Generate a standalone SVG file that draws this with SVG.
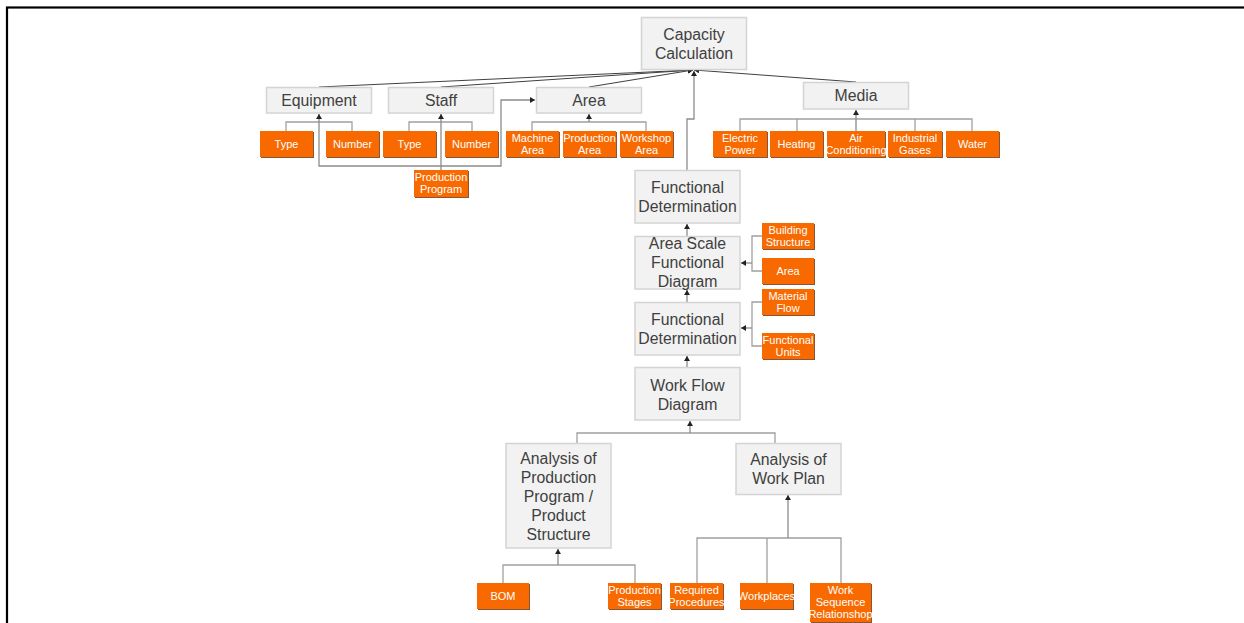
<svg xmlns="http://www.w3.org/2000/svg" width="1244" height="623" viewBox="0 0 1244 623">
  <style>
    .box { fill: #f2f2f2; stroke: #d4d4d4; stroke-width: 1.5; }
    .lbl { font-family: "Liberation Sans", Arial, sans-serif; font-size: 15.8px; fill: #404040; text-anchor: middle; }
    .leaf { fill: #f86a00; }
    .leaf-edge { fill: #8a5536; }
    .ltxt { font-family: "Liberation Sans", Arial, sans-serif; font-size: 11px; fill: #ffffff; text-anchor: middle; }
    .tree { fill: none; stroke: #a0a0a0; stroke-width: 1.3; }
    .up { fill: none; stroke: #8c8c8c; stroke-width: 1.3; marker-end: url(#arr); }
    .to-top { fill: none; stroke: #404040; stroke-width: 1; marker-end: url(#arr); }
  </style>
  <defs>
    <marker id="arr" markerUnits="userSpaceOnUse" markerWidth="6" markerHeight="6" refX="5" refY="3" orient="auto">
      <path d="M0,0 L5,3 L0,6 Z" fill="#222"/>
    </marker>
  </defs>

  <rect width="1244" height="623" fill="#ffffff"/>
  <!-- page frame -->
  <rect x="7" y="7.5" width="1300" height="700" fill="none" stroke="#000" stroke-width="2.2"/>

  <!-- connectors -->
  <g id="connectors">
    <!-- into Capacity Calculation -->
    <line class="to-top" x1="319" y1="87" x2="693" y2="70"/>
    <line class="to-top" x1="441" y1="87" x2="693" y2="70"/>
    <line class="to-top" x1="589" y1="87" x2="693" y2="70"/>
    <line class="to-top" x1="856" y1="82" x2="694" y2="70"/>
    <path class="up" d="M687,170 V119 H694 V71"/>

    <!-- Equipment children -->
    <path class="tree" d="M286,131 V122 H352 V131"/>
    <!-- Staff children -->
    <path class="tree" d="M409,131 V122 H472 V131"/>
    <!-- Area children -->
    <path class="tree" d="M532,131 V122 H646 V131"/>
    <path class="up" d="M589,122 V114"/>
    <!-- Production Program feeding Equipment, Staff and Area -->
    <path class="up" d="M441,170 V114"/>
    <path class="up" d="M441,166 H319 V114"/>
    <path class="up" d="M441,166 H501 V100 H535"/>

    <!-- Media children -->
    <path class="tree" d="M740,131 V119 H972 V131 M797,119 V131 M915,119 V131"/>
    <path class="up" d="M856,131 V110"/>

    <!-- central chain -->
    <path class="up" d="M687,236 V224"/>
    <path class="up" d="M687,302 V290"/>
    <path class="up" d="M687,367 V356"/>

    <!-- side inputs -->
    <path class="tree" d="M762,236 H752 V271 H762"/>
    <path class="up" d="M752,263 H741"/>
    <path class="tree" d="M762,302 H752 V346 H762"/>
    <path class="up" d="M752,328 H741"/>

    <!-- analyses into Work Flow Diagram -->
    <path class="tree" d="M577,443 V433 H775 V443"/>
    <path class="up" d="M690,433 V421"/>

    <!-- BOM / Production Stages -->
    <path class="tree" d="M503,583 V565 H635 V583"/>
    <path class="up" d="M558,565 V549"/>

    <!-- Work plan inputs -->
    <path class="tree" d="M697,583 V538 H841 V583 M767,538 V583"/>
    <path class="up" d="M788,538 V495"/>
  </g>

  <!-- main nodes -->
  <g id="capacity">
    <rect class="box" x="641.5" y="17.5" width="105" height="52"/>
    <text class="lbl" x="694" y="39.5">Capacity</text>
    <text class="lbl" x="694" y="58.5">Calculation</text>
  </g>
  <g id="equipment">
    <rect class="box" x="266.5" y="87.5" width="105" height="25.5"/>
    <text class="lbl" x="319" y="105.5">Equipment</text>
  </g>
  <g id="staff">
    <rect class="box" x="388.5" y="87.5" width="105" height="25.5"/>
    <text class="lbl" x="441" y="105.5">Staff</text>
  </g>
  <g id="area">
    <rect class="box" x="536.5" y="87.5" width="105" height="25.5"/>
    <text class="lbl" x="589" y="105.5">Area</text>
  </g>
  <g id="media">
    <rect class="box" x="803.5" y="82.5" width="105" height="26.5"/>
    <text class="lbl" x="856" y="101">Media</text>
  </g>
  <g id="functional-determination-1">
    <rect class="box" x="635" y="170.5" width="105" height="52.5"/>
    <text class="lbl" x="687.5" y="192.5">Functional</text>
    <text class="lbl" x="687.5" y="211.5">Determination</text>
  </g>
  <g id="area-scale-functional-diagram">
    <rect class="box" x="635" y="236.5" width="105" height="52.5"/>
    <text class="lbl" x="687.5" y="248.5">Area Scale</text>
    <text class="lbl" x="687.5" y="267.5">Functional</text>
    <text class="lbl" x="687.5" y="286.5">Diagram</text>
  </g>
  <g id="functional-determination-2">
    <rect class="box" x="635" y="302.5" width="105" height="52.5"/>
    <text class="lbl" x="687.5" y="324.5">Functional</text>
    <text class="lbl" x="687.5" y="343.5">Determination</text>
  </g>
  <g id="work-flow-diagram">
    <rect class="box" x="635" y="367.5" width="105" height="52.5"/>
    <text class="lbl" x="687.5" y="390.5">Work Flow</text>
    <text class="lbl" x="687.5" y="409.5">Diagram</text>
  </g>
  <g id="analysis-production-program">
    <rect class="box" x="506" y="443.5" width="105" height="104.5"/>
    <text class="lbl" x="558.5" y="463.5">Analysis of</text>
    <text class="lbl" x="558.5" y="482.5">Production</text>
    <text class="lbl" x="558.5" y="501.5">Program /</text>
    <text class="lbl" x="558.5" y="520.5">Product</text>
    <text class="lbl" x="558.5" y="539.5">Structure</text>
  </g>
  <g id="analysis-work-plan">
    <rect class="box" x="736" y="443.5" width="105" height="51"/>
    <text class="lbl" x="788.5" y="465">Analysis of</text>
    <text class="lbl" x="788.5" y="484">Work Plan</text>
  </g>

  <!-- leaf nodes -->
  <g id="equipment-type">
    <rect class="leaf-edge" x="261" y="132" width="53" height="26"/>
    <rect class="leaf" x="260" y="131" width="53" height="26"/>
    <text class="ltxt" x="286.5" y="148">Type</text>
  </g>
  <g id="equipment-number">
    <rect class="leaf-edge" x="327" y="132" width="53" height="26"/>
    <rect class="leaf" x="326" y="131" width="53" height="26"/>
    <text class="ltxt" x="352.5" y="148">Number</text>
  </g>
  <g id="staff-type">
    <rect class="leaf-edge" x="384" y="132" width="53" height="26"/>
    <rect class="leaf" x="383" y="131" width="53" height="26"/>
    <text class="ltxt" x="409.5" y="148">Type</text>
  </g>
  <g id="staff-number">
    <rect class="leaf-edge" x="446" y="132" width="53" height="26"/>
    <rect class="leaf" x="445" y="131" width="53" height="26"/>
    <text class="ltxt" x="471.5" y="148">Number</text>
  </g>
  <g id="machine-area">
    <rect class="leaf-edge" x="507" y="132" width="53" height="26"/>
    <rect class="leaf" x="506" y="131" width="53" height="26"/>
    <text class="ltxt" x="532.5" y="142">Machine</text>
    <text class="ltxt" x="532.5" y="154">Area</text>
  </g>
  <g id="production-area">
    <rect class="leaf-edge" x="564" y="132" width="53" height="26"/>
    <rect class="leaf" x="563" y="131" width="53" height="26"/>
    <text class="ltxt" x="589.5" y="142">Production</text>
    <text class="ltxt" x="589.5" y="154">Area</text>
  </g>
  <g id="workshop-area">
    <rect class="leaf-edge" x="621" y="132" width="53" height="26"/>
    <rect class="leaf" x="620" y="131" width="53" height="26"/>
    <text class="ltxt" x="646.5" y="142">Workshop</text>
    <text class="ltxt" x="646.5" y="154">Area</text>
  </g>
  <g id="production-program">
    <rect class="leaf-edge" x="415" y="171" width="54" height="27"/>
    <rect class="leaf" x="414" y="170" width="54" height="27"/>
    <text class="ltxt" x="441" y="181">Production</text>
    <text class="ltxt" x="441" y="193">Program</text>
  </g>
  <g id="electric-power">
    <rect class="leaf-edge" x="714" y="132" width="54" height="26"/>
    <rect class="leaf" x="713" y="131" width="54" height="26"/>
    <text class="ltxt" x="740" y="142">Electric</text>
    <text class="ltxt" x="740" y="154">Power</text>
  </g>
  <g id="heating">
    <rect class="leaf-edge" x="771" y="132" width="53" height="26"/>
    <rect class="leaf" x="770" y="131" width="53" height="26"/>
    <text class="ltxt" x="796.5" y="148">Heating</text>
  </g>
  <g id="air-conditioning">
    <rect class="leaf-edge" x="828" y="132" width="58" height="26"/>
    <rect class="leaf" x="827" y="131" width="58" height="26"/>
    <text class="ltxt" x="856" y="142">Air</text>
    <text class="ltxt" x="856" y="154">Conditioning</text>
  </g>
  <g id="industrial-gases">
    <rect class="leaf-edge" x="889" y="132" width="54" height="26"/>
    <rect class="leaf" x="888" y="131" width="54" height="26"/>
    <text class="ltxt" x="915" y="142">Industrial</text>
    <text class="ltxt" x="915" y="154">Gases</text>
  </g>
  <g id="water">
    <rect class="leaf-edge" x="947" y="132" width="53" height="26"/>
    <rect class="leaf" x="946" y="131" width="53" height="26"/>
    <text class="ltxt" x="972.5" y="148">Water</text>
  </g>
  <g id="building-structure">
    <rect class="leaf-edge" x="763" y="224" width="52" height="26"/>
    <rect class="leaf" x="762" y="223" width="52" height="26"/>
    <text class="ltxt" x="788" y="234">Building</text>
    <text class="ltxt" x="788" y="246">Structure</text>
  </g>
  <g id="area-input">
    <rect class="leaf-edge" x="763" y="259" width="52" height="26"/>
    <rect class="leaf" x="762" y="258" width="52" height="26"/>
    <text class="ltxt" x="788" y="275">Area</text>
  </g>
  <g id="material-flow">
    <rect class="leaf-edge" x="763" y="290" width="52" height="26"/>
    <rect class="leaf" x="762" y="289" width="52" height="26"/>
    <text class="ltxt" x="788" y="300">Material</text>
    <text class="ltxt" x="788" y="312">Flow</text>
  </g>
  <g id="functional-units">
    <rect class="leaf-edge" x="763" y="334" width="52" height="26"/>
    <rect class="leaf" x="762" y="333" width="52" height="26"/>
    <text class="ltxt" x="788" y="344">Functional</text>
    <text class="ltxt" x="788" y="356">Units</text>
  </g>
  <g id="bom">
    <rect class="leaf-edge" x="478" y="584" width="52" height="26"/>
    <rect class="leaf" x="477" y="583" width="52" height="26"/>
    <text class="ltxt" x="503" y="600">BOM</text>
  </g>
  <g id="production-stages">
    <rect class="leaf-edge" x="609" y="584" width="53" height="26"/>
    <rect class="leaf" x="608" y="583" width="53" height="26"/>
    <text class="ltxt" x="634.5" y="594">Production</text>
    <text class="ltxt" x="634.5" y="606">Stages</text>
  </g>
  <g id="required-procedures">
    <rect class="leaf-edge" x="671" y="584" width="53" height="26"/>
    <rect class="leaf" x="670" y="583" width="53" height="26"/>
    <text class="ltxt" x="696.5" y="594">Required</text>
    <text class="ltxt" x="696.5" y="606">Procedures</text>
  </g>
  <g id="workplaces">
    <rect class="leaf-edge" x="741" y="584" width="53" height="26"/>
    <rect class="leaf" x="740" y="583" width="53" height="26"/>
    <text class="ltxt" x="766.5" y="600">Workplaces</text>
  </g>
  <g id="work-sequence">
    <rect class="leaf-edge" x="811" y="584" width="61" height="39"/>
    <rect class="leaf" x="810" y="583" width="61" height="39"/>
    <text class="ltxt" x="840.5" y="594">Work</text>
    <text class="ltxt" x="840.5" y="606">Sequence</text>
    <text class="ltxt" x="840.5" y="618">Relationshop</text>
  </g>
</svg>
